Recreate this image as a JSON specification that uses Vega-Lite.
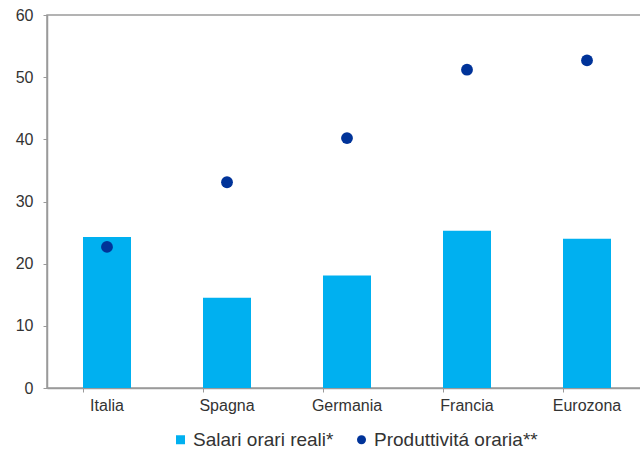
{
  "$schema": "https://vega.github.io/schema/vega-lite/v6.json",
  "width": 600,
  "height": 373,
  "autosize": "none",
  "padding": {"left": 47, "top": 15, "right": 0, "bottom": 61},
  "background": "white",
  "config": {
    "font": "Liberation Sans",
    "view": {"stroke": "#9a9a9a", "strokeWidth": 1.5},
    "axis": {"labelFont": "Liberation Sans", "labelColor": "#333333", "labelFontSize": 16, "domainColor": "#9a9a9a", "domainWidth": 1.5, "tickColor": "#9a9a9a", "tickSize": 4, "grid": false, "title": null}
  },
  "data": {
    "values": [
      {"paese": "Italia", "serie": "Salari orari reali*", "valore": 24.3},
      {"paese": "Spagna", "serie": "Salari orari reali*", "valore": 14.5},
      {"paese": "Germania", "serie": "Salari orari reali*", "valore": 18.1},
      {"paese": "Francia", "serie": "Salari orari reali*", "valore": 25.3},
      {"paese": "Eurozona", "serie": "Salari orari reali*", "valore": 24.0},
      {"paese": "Italia", "serie": "Produttivitá oraria**", "valore": 22.7},
      {"paese": "Spagna", "serie": "Produttivitá oraria**", "valore": 33.1},
      {"paese": "Germania", "serie": "Produttivitá oraria**", "valore": 40.2},
      {"paese": "Francia", "serie": "Produttivitá oraria**", "valore": 51.2},
      {"paese": "Eurozona", "serie": "Produttivitá oraria**", "valore": 52.7}
    ]
  },
  "encoding": {
    "x": {"field": "paese", "type": "nominal", "sort": ["Italia", "Spagna", "Germania", "Francia", "Eurozona"],
      "scale": {"paddingInner": 0.6, "paddingOuter": 0.3},
      "axis": {"labelAngle": 0, "bandPosition": 0, "labelPadding": 5}},
    "y": {"field": "valore", "type": "quantitative", "scale": {"domain": [0, 60], "nice": false},
      "axis": {"values": [0, 10, 20, 30, 40, 50, 60], "labelPadding": 10}},
    "color": {"field": "serie", "type": "nominal", "sort": ["Salari orari reali*", "Produttivitá oraria**"],
      "scale": {"domain": ["Salari orari reali*", "Produttivitá oraria**"], "range": ["#00B0F0", "#003399"]},
      "legend": {"orient": "none", "legendX": 124, "legendY": 415, "direction": "horizontal", "title": null, "labelFontSize": 19, "labelLimit": 400, "labelColor": "#333333", "labelFont": "Liberation Sans", "symbolSize": 81, "labelOffset": 3, "columnPadding": 18, "symbolStrokeWidth": 0}},
    "shape": {"field": "serie", "type": "nominal", "sort": ["Salari orari reali*", "Produttivitá oraria**"],
      "scale": {"domain": ["Salari orari reali*", "Produttivitá oraria**"], "range": ["square", "circle"]},
      "legend": {"orient": "none", "legendX": 124, "legendY": 415, "direction": "horizontal", "title": null, "labelLimit": 400}}
  },
  "layer": [
    {"transform": [{"filter": "datum.serie === 'Salari orari reali*'"}], "mark": {"type": "bar"}},
    {"transform": [{"filter": "datum.serie === 'Produttivitá oraria**'"}], "mark": {"type": "point", "filled": true, "opacity": 1, "size": 140}}
  ]
}
